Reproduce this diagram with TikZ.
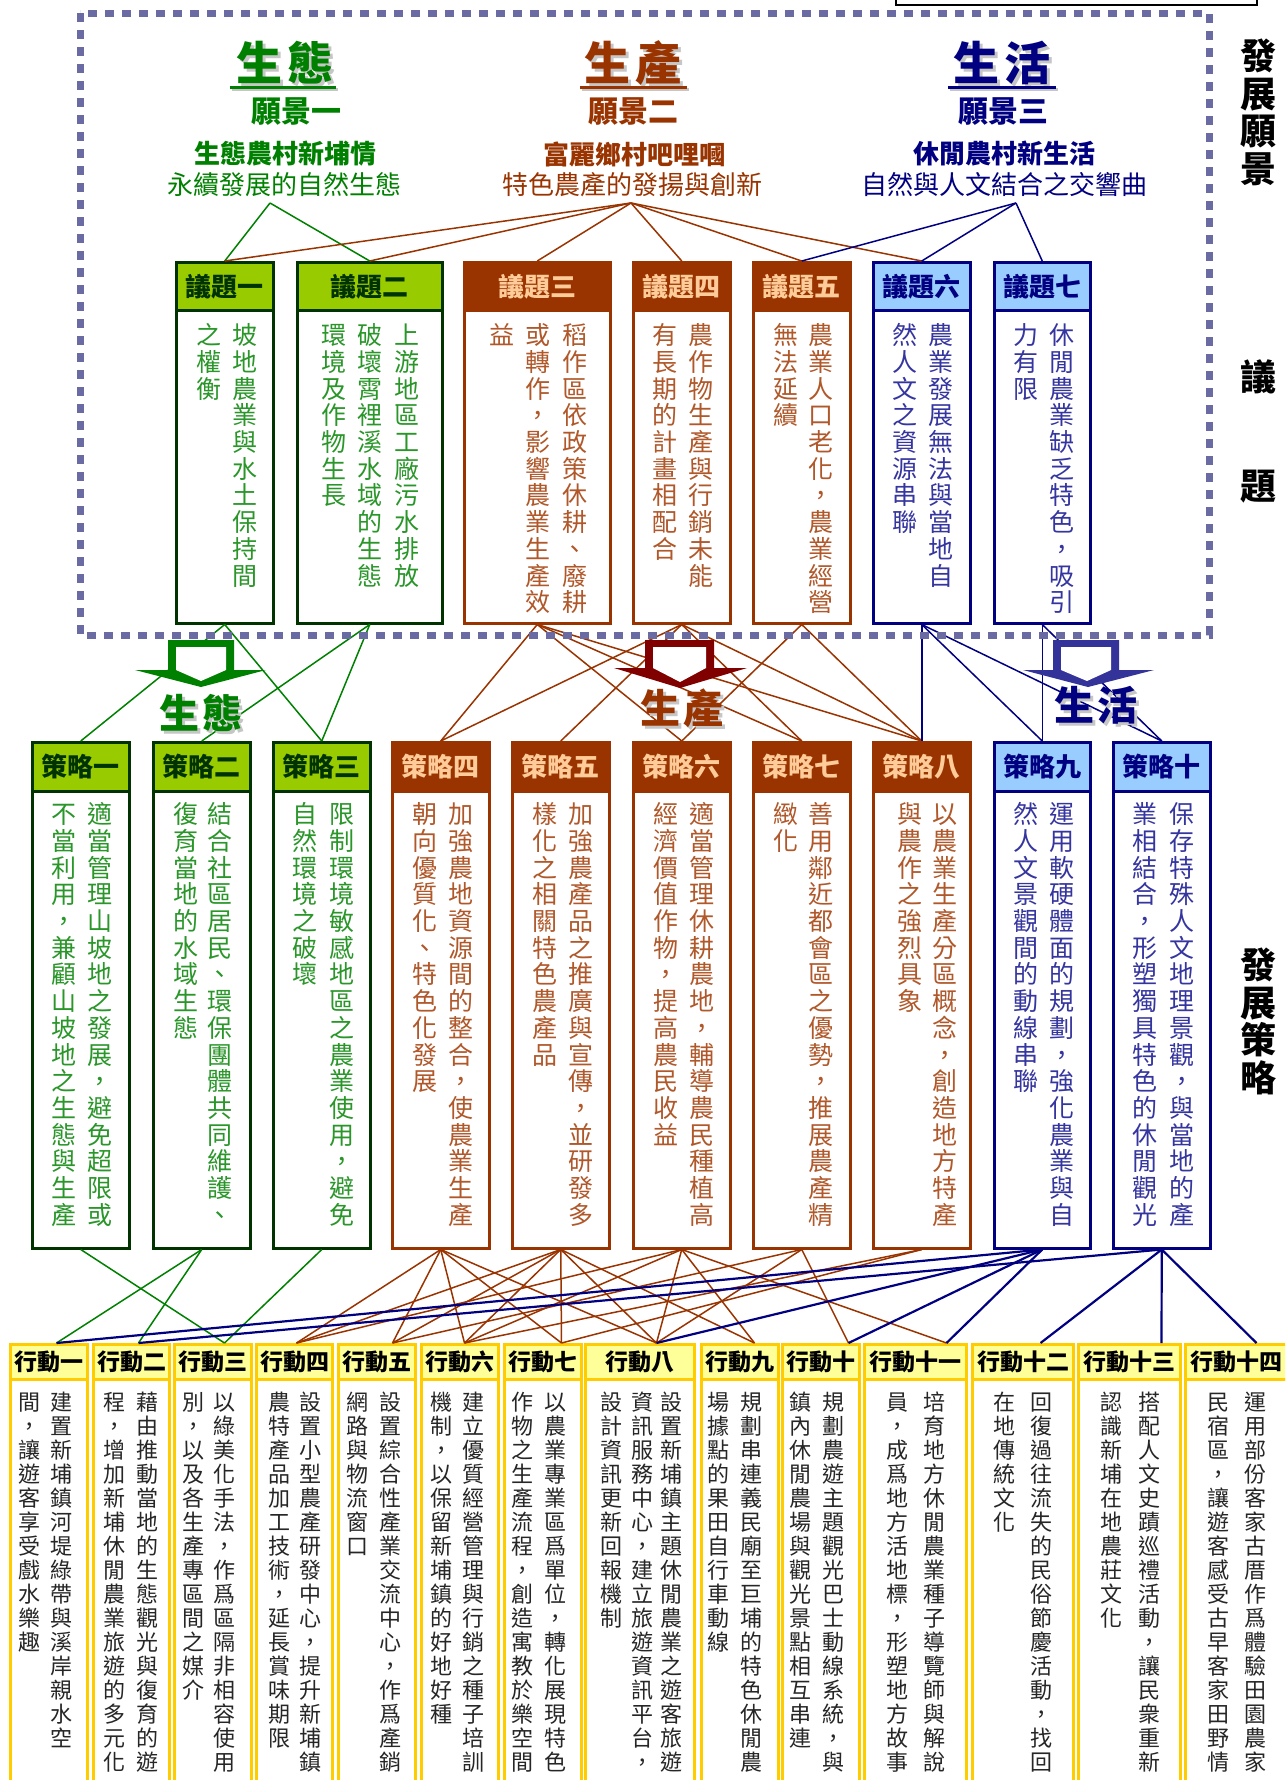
\documentclass[tikz,border=0pt]{standalone}
\usepackage{fontspec}
\setmainfont{Noto Sans CJK TC}
\usepackage{tikz}
\usepackage{xcolor}

\definecolor{ecoline}{HTML}{008000}
\definecolor{ecodark}{HTML}{003300}
\definecolor{ecofill}{HTML}{99CC00}
\definecolor{ecotext}{HTML}{2A962A}
\definecolor{prodline}{HTML}{993300}
\definecolor{prodhead}{HTML}{FFCC99}
\definecolor{prodtext}{HTML}{B0582A}
\definecolor{lifeline}{HTML}{000080}
\definecolor{lifefill}{HTML}{99CCFF}
\definecolor{lifetext}{HTML}{3535A0}
\definecolor{acttext}{HTML}{262626}
\definecolor{actline}{HTML}{FFCC00}
\definecolor{actfill}{HTML}{FFFF99}
\definecolor{framecol}{HTML}{6B6BA3}
\definecolor{arrowred}{HTML}{800000}
\definecolor{arrowblue}{HTML}{333399}

\makeatletter
\newcommand\vcol[1]{\vtop{\@tfor\vcchar:=#1\do{\hbox to 1em{\vrule height .88em depth .12em width 0pt\hss\vcchar\hss}}}}
\makeatother

\tikzset{
  boxbase/.style={draw, line width=2.5, inner sep=0, anchor=north west},
  hd/.style={boxbase, font=\fontsize{26}{26}\selectfont\bfseries},
  ghead/.style={hd, draw=ecodark, fill=ecofill, text=ecodark},
  gbody/.style={boxbase, draw=ecodark, fill=white},
  phead/.style={hd, draw=prodline, fill=prodline, text=prodhead},
  pbody/.style={boxbase, draw=prodline, fill=white},
  bhead/.style={hd, draw=lifeline, fill=lifefill, text=lifeline},
  bbody/.style={boxbase, draw=lifeline, fill=white},
  ahead/.style={boxbase, draw=actline, line width=3, fill=actfill, font=\fontsize{23}{23}\selectfont\bfseries},
  abody/.style={boxbase, draw=actline, line width=3, fill=white},
  colbase/.style={anchor=north, inner sep=0, font=\fontsize{25}{26.7}\selectfont},
  gcol/.style={colbase, text=ecotext},
  pcol/.style={colbase, text=prodtext},
  bcol/.style={colbase, text=lifetext},
  acol/.style={anchor=north, inner sep=0, font=\fontsize{22}{24}\selectfont, text=acttext},
  gline/.style={draw=ecoline, line width=1.5},
  pline/.style={draw=prodline, line width=1.5},
  bline/.style={draw=lifeline, line width=1.5},
  bthick/.style={draw=lifeline, line width=2.2},
  vtitle/.style={inner sep=0, font=\fontsize{46}{46}\selectfont\bfseries},
  vlabel/.style={inner sep=0, font=\fontsize{40}{40}\selectfont\bfseries},
  shade/.style={text=gray!45},
  vno/.style={inner sep=0, font=\fontsize{30}{30}\selectfont\bfseries},
  vname/.style={inner sep=0, font=\fontsize{26}{26}\selectfont\bfseries},
  vline/.style={inner sep=0, font=\fontsize{26}{26}\selectfont},
  sidecol/.style={anchor=north, inner sep=0, font=\fontsize{36}{37.5}\selectfont\bfseries},
  sidelab/.style={inner sep=0, font=\fontsize{36}{36}\selectfont\bfseries},
  frame/.style={draw=framecol, line width=7, dash pattern=on 9 off 8}
}

\begin{document}
\begin{tikzpicture}[x=1pt, y=-1pt]
\useasboundingbox (0,0) rectangle (1285,1780);
\clip (0,0) rectangle (1285,1780);

\draw[line width=2.5] (896,-20) rectangle (1257,5);

\node[vtitle, shade] (v1s) at (288,66) {生\kern6pt態};
\node[vtitle, text=ecoline] (v1t) at (285,63) {生\kern6pt態};
\draw[line width=3, gray!45] (232,89) -- (338,89);
\draw[line width=3, ecoline] (230,87) -- (336,87);
\node[vno, text=ecoline] (v1a) at (296,112) {願景一};
\node[vname, text=ecoline] (v1b) at (285,154) {生態農村新埔情};
\node[vline, text=ecoline] (v1c) at (284,185) {永續發展的自然生態};
\coordinate (v1p) at (270,203);

\node[vtitle, shade] (v2s) at (636,66) {生\kern6pt產};
\node[vtitle, text=prodline] (v2t) at (633,63) {生\kern6pt產};
\draw[line width=3, gray!45] (582,89) -- (689,89);
\draw[line width=3, prodline] (580,87) -- (687,87);
\node[vno, text=prodline] (v2a) at (633,112) {願景二};
\node[vname, text=prodline] (v2b) at (634,154) {富麗鄉村吧哩嘓};
\node[vline, text=prodline] (v2c) at (632,185) {特色農產的發揚與創新};
\coordinate (v2p) at (631,203);

\node[vtitle, shade] (v3s) at (1005,66) {生\kern6pt活};
\node[vtitle, text=lifeline] (v3t) at (1002,63) {生\kern6pt活};
\draw[line width=3, gray!45] (950,89) -- (1058,89);
\draw[line width=3, lifeline] (948,87) -- (1056,87);
\node[vno, text=lifeline] (v3a) at (1003,112) {願景三};
\node[vname, text=lifeline] (v3b) at (1004,154) {休閒農村新生活};
\node[vline, text=lifeline] (v3c) at (1004,185) {自然與人文結合之交響曲};
\coordinate (v3p) at (1016,203);

\node[sidecol] (r1) at (1258,38) {\vcol{發展願景}};
\node[sidelab] (r2) at (1258,377) {議};
\node[sidelab] (r3) at (1258,487) {題};
\node[sidecol] (r4) at (1258,947) {\vcol{發展策略}};

\node[gbody, minimum width=97, minimum height=313] (t1b) at (175,309) {};
\node[ghead, minimum width=97, minimum height=48] (t1) at (175,261) {議題一};
\node[gcol] (t1c1) at (245,322.5) {\vcol{坡地農業與水土保持間}};
\node[gcol] (t1c2) at (209,322.5) {\vcol{之權衡}};
\node[gbody, minimum width=145, minimum height=313] (t2b) at (296,309) {};
\node[ghead, minimum width=145, minimum height=48] (t2) at (296,261) {議題二};
\node[gcol] (t2c1) at (407,322.5) {\vcol{上游地區工廠污水排放}};
\node[gcol] (t2c2) at (370,322.5) {\vcol{破壞霄裡溪水域的生態}};
\node[gcol] (t2c3) at (334,322.5) {\vcol{環境及作物生長}};
\node[pbody, minimum width=146, minimum height=313] (t3b) at (463,309) {};
\node[phead, minimum width=146, minimum height=48] (t3) at (463,261) {議題三};
\node[pcol] (t3c1) at (575,322.5) {\vcol{稻作區依政策休耕、廢耕}};
\node[pcol] (t3c2) at (538,322.5) {\vcol{或轉作，影響農業生產效}};
\node[pcol] (t3c3) at (502,322.5) {\vcol{益}};
\node[pbody, minimum width=97, minimum height=313] (t4b) at (632,309) {};
\node[phead, minimum width=97, minimum height=48] (t4) at (632,261) {議題四};
\node[pcol] (t4c1) at (701,322.5) {\vcol{農作物生產與行銷未能}};
\node[pcol] (t4c2) at (665,322.5) {\vcol{有長期的計畫相配合}};
\node[pbody, minimum width=97, minimum height=313] (t5b) at (752,309) {};
\node[phead, minimum width=97, minimum height=48] (t5) at (752,261) {議題五};
\node[pcol] (t5c1) at (821,322.5) {\vcol{農業人口老化，農業經營}};
\node[pcol] (t5c2) at (786,322.5) {\vcol{無法延續}};
\node[bbody, minimum width=97, minimum height=313] (t6b) at (872,309) {};
\node[bhead, minimum width=97, minimum height=48] (t6) at (872,261) {議題六};
\node[bcol] (t6c1) at (941,322.5) {\vcol{農業發展無法與當地自}};
\node[bcol] (t6c2) at (905,322.5) {\vcol{然人文之資源串聯}};
\node[bbody, minimum width=96, minimum height=313] (t7b) at (993,309) {};
\node[bhead, minimum width=96, minimum height=48] (t7) at (993,261) {議題七};
\node[bcol] (t7c1) at (1062,322.5) {\vcol{休閒農業缺乏特色，吸引}};
\node[bcol] (t7c2) at (1026,322.5) {\vcol{力有限}};

\node[gbody, minimum width=97, minimum height=457] (s1b) at (31,790) {};
\node[ghead, minimum width=97, minimum height=49] (s1) at (31,741) {策略一};
\node[gcol] (s1c1) at (100,801.5) {\vcol{適當管理山坡地之發展，避免超限或}};
\node[gcol] (s1c2) at (64,801.5) {\vcol{不當利用，兼顧山坡地之生態與生產}};
\node[gbody, minimum width=97, minimum height=457] (s2b) at (152,790) {};
\node[ghead, minimum width=97, minimum height=49] (s2) at (152,741) {策略二};
\node[gcol] (s2c1) at (220,801.5) {\vcol{結合社區居民、環保團體共同維護、}};
\node[gcol] (s2c2) at (186,801.5) {\vcol{復育當地的水域生態}};
\node[gbody, minimum width=97, minimum height=457] (s3b) at (272,790) {};
\node[ghead, minimum width=97, minimum height=49] (s3) at (272,741) {策略三};
\node[gcol] (s3c1) at (342,801.5) {\vcol{限制環境敏感地區之農業使用，避免}};
\node[gcol] (s3c2) at (305,801.5) {\vcol{自然環境之破壞}};
\node[pbody, minimum width=97, minimum height=457] (s4b) at (391,790) {};
\node[phead, minimum width=97, minimum height=49] (s4) at (391,741) {策略四};
\node[pcol] (s4c1) at (461,801.5) {\vcol{加強農地資源間的整合，使農業生產}};
\node[pcol] (s4c2) at (425,801.5) {\vcol{朝向優質化、特色化發展}};
\node[pbody, minimum width=97, minimum height=457] (s5b) at (511,790) {};
\node[phead, minimum width=97, minimum height=49] (s5) at (511,741) {策略五};
\node[pcol] (s5c1) at (581,801.5) {\vcol{加強農產品之推廣與宣傳，並研發多}};
\node[pcol] (s5c2) at (545,801.5) {\vcol{樣化之相關特色農產品}};
\node[pbody, minimum width=97, minimum height=457] (s6b) at (632,790) {};
\node[phead, minimum width=97, minimum height=49] (s6) at (632,741) {策略六};
\node[pcol] (s6c1) at (702,801.5) {\vcol{適當管理休耕農地，輔導農民種植高}};
\node[pcol] (s6c2) at (666,801.5) {\vcol{經濟價值作物，提高農民收益}};
\node[pbody, minimum width=97, minimum height=457] (s7b) at (752,790) {};
\node[phead, minimum width=97, minimum height=49] (s7) at (752,741) {策略七};
\node[pcol] (s7c1) at (821,801.5) {\vcol{善用鄰近都會區之優勢，推展農產精}};
\node[pcol] (s7c2) at (786,801.5) {\vcol{緻化}};
\node[pbody, minimum width=97, minimum height=457] (s8b) at (872,790) {};
\node[phead, minimum width=97, minimum height=49] (s8) at (872,741) {策略八};
\node[pcol] (s8c1) at (945,801.5) {\vcol{以農業生產分區概念，創造地方特產}};
\node[pcol] (s8c2) at (910,801.5) {\vcol{與農作之強烈具象}};
\node[bbody, minimum width=96, minimum height=457] (s9b) at (993,790) {};
\node[bhead, minimum width=96, minimum height=49] (s9) at (993,741) {策略九};
\node[bcol] (s9c1) at (1062,801.5) {\vcol{運用軟硬體面的規劃，強化農業與自}};
\node[bcol] (s9c2) at (1026,801.5) {\vcol{然人文景觀間的動線串聯}};
\node[bbody, minimum width=97, minimum height=457] (s10b) at (1112,790) {};
\node[bhead, minimum width=97, minimum height=49] (s10) at (1112,741) {策略十};
\node[bcol] (s10c1) at (1182,801.5) {\vcol{保存特殊人文地理景觀，與當地的產}};
\node[bcol] (s10c2) at (1145,801.5) {\vcol{業相結合，形塑獨具特色的休閒觀光}};

\node[abody, minimum width=77, minimum height=422] (a1b) at (9,1378) {};
\node[ahead, minimum width=77, minimum height=35] (a1) at (9,1343) {行動一};
\node[acol] (a1c1) at (61,1391) {\vcol{建置新埔鎮河堤綠帶與溪岸親水空}};
\node[acol] (a1c2) at (29,1391) {\vcol{間，讓遊客享受戲水樂趣}};
\node[abody, minimum width=76, minimum height=422] (a2b) at (92,1378) {};
\node[ahead, minimum width=76, minimum height=35] (a2) at (92,1343) {行動二};
\node[acol] (a2c1) at (147,1391) {\vcol{藉由推動當地的生態觀光與復育的遊}};
\node[acol] (a2c2) at (114,1391) {\vcol{程，增加新埔休閒農業旅遊的多元化}};
\node[abody, minimum width=77, minimum height=422] (a3b) at (173,1378) {};
\node[ahead, minimum width=77, minimum height=35] (a3) at (173,1343) {行動三};
\node[acol] (a3c1) at (224,1391) {\vcol{以綠美化手法，作爲區隔非相容使用}};
\node[acol] (a3c2) at (193,1391) {\vcol{別，以及各生產專區間之媒介}};
\node[abody, minimum width=76, minimum height=422] (a4b) at (255,1378) {};
\node[ahead, minimum width=76, minimum height=35] (a4) at (255,1343) {行動四};
\node[acol] (a4c1) at (310,1391) {\vcol{設置小型農產研發中心，提升新埔鎮}};
\node[acol] (a4c2) at (279,1391) {\vcol{農特產品加工技術，延長賞味期限}};
\node[abody, minimum width=77, minimum height=422] (a5b) at (337,1378) {};
\node[ahead, minimum width=77, minimum height=35] (a5) at (337,1343) {行動五};
\node[acol] (a5c1) at (390,1391) {\vcol{設置綜合性產業交流中心，作爲產銷}};
\node[acol] (a5c2) at (357,1391) {\vcol{網路與物流窗口}};
\node[abody, minimum width=77, minimum height=422] (a6b) at (420,1378) {};
\node[ahead, minimum width=77, minimum height=35] (a6) at (420,1343) {行動六};
\node[acol] (a6c1) at (473,1391) {\vcol{建立優質經營管理與行銷之種子培訓}};
\node[acol] (a6c2) at (441,1391) {\vcol{機制，以保留新埔鎮的好地好種}};
\node[abody, minimum width=77, minimum height=422] (a7b) at (503,1378) {};
\node[ahead, minimum width=77, minimum height=35] (a7) at (503,1343) {行動七};
\node[acol] (a7c1) at (555,1391) {\vcol{以農業專業區爲單位，轉化展現特色}};
\node[acol] (a7c2) at (522,1391) {\vcol{作物之生產流程，創造寓教於樂空間}};
\node[abody, minimum width=109, minimum height=422] (a8b) at (584,1378) {};
\node[ahead, minimum width=109, minimum height=35] (a8) at (584,1343) {行動八};
\node[acol] (a8c1) at (671,1391) {\vcol{設置新埔鎮主題休閒農業之遊客旅遊}};
\node[acol] (a8c2) at (642,1391) {\vcol{資訊服務中心，建立旅遊資訊平台，}};
\node[acol] (a8c3) at (611,1391) {\vcol{設計資訊更新回報機制}};
\node[abody, minimum width=77, minimum height=422] (a9b) at (700,1378) {};
\node[ahead, minimum width=77, minimum height=35] (a9) at (700,1343) {行動九};
\node[acol] (a9c1) at (751,1391) {\vcol{規劃串連義民廟至巨埔的特色休閒農}};
\node[acol] (a9c2) at (718,1391) {\vcol{場據點的果田自行車動線}};
\node[abody, minimum width=77, minimum height=422] (a10b) at (781,1378) {};
\node[ahead, minimum width=77, minimum height=35] (a10) at (781,1343) {行動十};
\node[acol] (a10c1) at (833,1391) {\vcol{規劃農遊主題觀光巴士動線系統，與}};
\node[acol] (a10c2) at (800,1391) {\vcol{鎮內休閒農場與觀光景點相互串連}};
\node[abody, minimum width=102, minimum height=422] (a11b) at (863,1378) {};
\node[ahead, minimum width=102, minimum height=35] (a11) at (863,1343) {行動十一};
\node[acol] (a11c1) at (934,1391) {\vcol{培育地方休閒農業種子導覽師與解說}};
\node[acol] (a11c2) at (897,1391) {\vcol{員，成爲地方活地標，形塑地方故事}};
\node[abody, minimum width=101, minimum height=422] (a12b) at (971,1378) {};
\node[ahead, minimum width=101, minimum height=35] (a12) at (971,1343) {行動十二};
\node[acol] (a12c1) at (1041,1391) {\vcol{回復過往流失的民俗節慶活動，找回}};
\node[acol] (a12c2) at (1004,1391) {\vcol{在地傳統文化}};
\node[abody, minimum width=102, minimum height=422] (a13b) at (1077,1378) {};
\node[ahead, minimum width=102, minimum height=35] (a13) at (1077,1343) {行動十三};
\node[acol] (a13c1) at (1149,1391) {\vcol{搭配人文史蹟巡禮活動，讓民衆重新}};
\node[acol] (a13c2) at (1111,1391) {\vcol{認識新埔在地農莊文化}};
\node[abody, minimum width=102, minimum height=422] (a14b) at (1184,1378) {};
\node[ahead, minimum width=102, minimum height=35] (a14) at (1184,1343) {行動十四};
\node[acol] (a14c1) at (1255,1391) {\vcol{運用部份客家古厝作爲體驗田園農家}};
\node[acol] (a14c2) at (1218,1391) {\vcol{民宿區，讓遊客感受古早客家田野情}};

\coordinate (a1p) at ([xshift=7.5]a1.north);
\coordinate (a2p) at ([xshift=7]a2.north);
\coordinate (a3p) at ([xshift=11.5]a3.north);
\coordinate (a4p) at ([xshift=2]a4.north);
\coordinate (a5p) at ([xshift=15.5]a5.north);
\coordinate (a6p) at ([xshift=4.5]a6.north);
\coordinate (a7p) at ([xshift=18.5]a7.north);
\coordinate (a8p) at ([xshift=16.5]a8.north);
\coordinate (a9p) at ([xshift=14.5]a9.north);
\coordinate (a10p) at ([xshift=27.5]a10.north);
\coordinate (a11p) at ([xshift=31]a11.north);
\coordinate (a12p) at ([xshift=17.5]a12.north);
\coordinate (a13p) at ([xshift=32]a13.north);
\coordinate (a14p) at ([xshift=20]a14.north);

\draw[gline] (v1p) -- (t1.north);
\draw[gline] (v1p) -- (t2.north);
\draw[pline] (v2p) -- (t1.north);
\draw[pline] (v2p) -- (t2.north);
\draw[pline] (v2p) -- (t3.north);
\draw[pline] (v2p) -- (t4.north);
\draw[pline] (v2p) -- (t5.north);
\draw[pline] (v2p) -- (t6.north);
\draw[bline] (v3p) -- (t5.north);
\draw[bline] (v3p) -- (t6.north);
\draw[bline] (v3p) -- (t7.north);

\draw[gline] (t1b.south) -- (s1.north);
\draw[gline] (t1b.south) -- (s3.north);
\draw[gline] (t2b.south) -- (s2.north);
\draw[gline] (t2b.south) -- (s3.north);
\draw[pline] (t3b.south) -- (s4.north);
\draw[pline] (t3b.south) -- (s6.north);
\draw[pline] (t3b.south) -- (s7.north);
\draw[pline] (t3b.south) -- (s8.north);
\draw[pline] (t4b.south) -- (s4.north);
\draw[pline] (t4b.south) -- (s5.north);
\draw[pline] (t4b.south) -- (s7.north);
\draw[pline] (t4b.south) -- (s8.north);
\draw[pline] (t5b.south) -- (s6.north);
\draw[pline] (t5b.south) -- (s8.north);
\draw[bline] (t6b.south) -- (s8.north);
\draw[bline] (t6b.south) -- (s9.north);
\draw[bline] (t6b.south) -- (s10.north);
\draw[bline] (t7b.south) -- (s9.north);
\draw[bline] (t7b.south) -- (s10.north);

\draw[gline] (s1b.south) -- (a3p);
\draw[gline] (s2b.south) -- (a1p);
\draw[gline] (s2b.south) -- (a2p);
\draw[gline] (s3b.south) -- (a3p);
\draw[pline] (s4b.south) -- (a4p);
\draw[pline] (s4b.south) -- (a5p);
\draw[pline] (s4b.south) -- (a6p);
\draw[pline] (s4b.south) -- (a7p);
\draw[pline] (s4b.south) -- (a8p);
\draw[pline] (s5b.south) -- (a4p);
\draw[pline] (s5b.south) -- (a5p);
\draw[pline] (s5b.south) -- (a6p);
\draw[pline] (s5b.south) -- (a7p);
\draw[pline] (s5b.south) -- (a8p);
\draw[pline] (s5b.south) -- (a9p);
\draw[pline] (s6b.south) -- (a4p);
\draw[pline] (s6b.south) -- (a6p);
\draw[pline] (s6b.south) -- (a8p);
\draw[pline] (s6b.south) -- (a9p);
\draw[pline] (s6b.south) -- (a11p);
\draw[pline] (s7b.south) -- (a5p);
\draw[pline] (s7b.south) -- (a8p);
\draw[pline] (s7b.south) -- (a10p);
\draw[pline] (s8b.south) -- (a6p);
\draw[pline] (s8b.south) -- (a7p);
\draw[bthick] (s9b.south) -- (a1p);
\draw[bthick] (s9b.south) -- (a8p);
\draw[bthick] (s9b.south) -- (a10p);
\draw[bthick] (s9b.south) -- (a11p);
\draw[bthick] (s10b.south) -- (a2p);
\draw[bthick] (s10b.south) -- (a12p);
\draw[bthick] (s10b.south) -- (a13p);
\draw[bthick] (s10b.south) -- (a14p);

\draw[frame] (80,13) rectangle (1209,635);

\fill[ecoline] (168,640) -- (234,640) -- (234,670) -- (266,670) -- (201,687) -- (135,670) -- (168,670) -- cycle;
\fill[white] (176,647) -- (226,647) -- (226,670) -- (201,681) -- (176,670) -- cycle;
\fill[arrowred] (645,640) -- (714,640) -- (714,668) -- (747,668) -- (680,688) -- (614,668) -- (645,668) -- cycle;
\fill[white] (653,647) -- (706,647) -- (706,668) -- (680,682) -- (653,668) -- cycle;
\fill[arrowblue] (1053,640) -- (1119,640) -- (1119,670) -- (1154,670) -- (1088,687) -- (1023,670) -- (1053,670) -- cycle;
\fill[white] (1061,647) -- (1111,647) -- (1111,670) -- (1087,681) -- (1061,670) -- cycle;

\node[vlabel, shade] (e1s) at (204,716) {生\kern3pt態};
\node[vlabel, text=ecoline] (e1) at (201,713) {生\kern3pt態};
\node[vlabel, shade] (e2s) at (685,711) {生\kern3pt產};
\node[vlabel, text=prodline] (e2) at (682,708) {生\kern3pt產};
\node[vlabel, shade] (e3s) at (1099,708) {生\kern3pt活};
\node[vlabel, text=lifeline] (e3) at (1096,705) {生\kern3pt活};
\end{tikzpicture}
\end{document}
